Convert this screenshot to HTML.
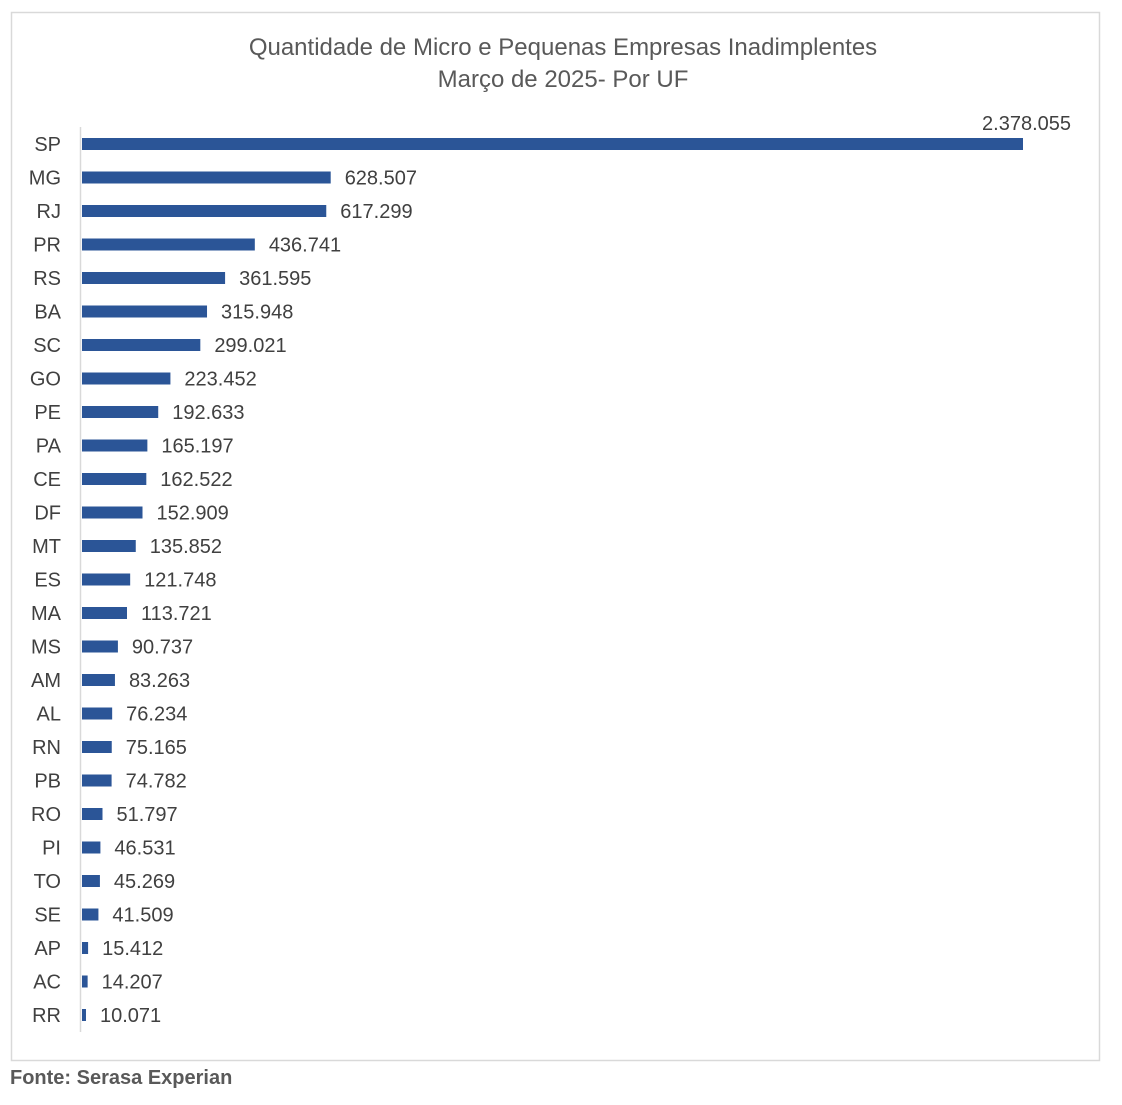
<!DOCTYPE html>
<html><head><meta charset="utf-8"><style>
html,body{margin:0;padding:0;background:#fff;width:1122px;height:1105px;overflow:hidden}
svg{display:block;font-family:"Liberation Sans",sans-serif}
</style></head><body>
<svg id="c" width="1122" height="1105">
<rect x="11.5" y="12.5" width="1088" height="1048" fill="#fff" stroke="#d9d9d9" stroke-width="1.5"/>
<text x="563" y="55" text-anchor="middle" font-size="24" fill="#595959">Quantidade de Micro e Pequenas Empresas Inadimplentes</text>
<text x="563" y="87" text-anchor="middle" font-size="24" fill="#595959">Março de 2025- Por UF</text>
<line x1="80.5" y1="127" x2="80.5" y2="1032" stroke="#d9d9d9" stroke-width="1.5"/>
<g id="bars"></g>
<text x="10" y="1084" font-size="20" font-weight="bold" fill="#595959">Fonte: Serasa Experian</text>
</svg>
<script>
const categories=["SP","MG","RJ","PR","RS","BA","SC","GO","PE","PA","CE","DF","MT","ES","MA","MS","AM","AL","RN","PB","RO","PI","TO","SE","AP","AC","RR"];
const values=[2378055,628507,617299,436741,361595,315948,299021,223452,192633,165197,162522,152909,135852,121748,113721,90737,83263,76234,75165,74782,51797,46531,45269,41509,15412,14207,10071];
const x0=82, xScale=941/2378055;
const yFirst=144, yStep=33.5, barH=12;
const x=v=>x0+v*xScale;
const y=i=>yFirst+i*yStep;
const fmt=v=>v.toLocaleString('de-DE');
const NS="http://www.w3.org/2000/svg";
const g=document.getElementById('bars');
categories.forEach((c,i)=>{
  const lab=document.createElementNS(NS,'text');
  
  
  lab.setAttribute('x',61);lab.setAttribute('y',y(i)+7);lab.setAttribute('text-anchor','end');
  lab.setAttribute('font-size','20');lab.setAttribute('fill','#404040');lab.textContent=c;g.appendChild(lab);
  const r=document.createElementNS(NS,'rect');
  
  
  r.setAttribute('x',x0);r.setAttribute('y',y(i)-barH/2);r.setAttribute('width',Math.max(x(values[i])-x0,1));
  r.setAttribute('height',barH);r.setAttribute('fill','#2b5597');g.appendChild(r);
  const t=document.createElementNS(NS,'text');
  
  
  t.setAttribute('font-size','20');t.setAttribute('fill','#404040');
  if(i===0){t.setAttribute('x',x(values[i])+48);t.setAttribute('y',y(i)-14);t.setAttribute('text-anchor','end');}
  else{t.setAttribute('x',x(values[i])+14);t.setAttribute('y',y(i)+7);}
  t.textContent=fmt(values[i]);g.appendChild(t);
});
</script>
</body></html>
